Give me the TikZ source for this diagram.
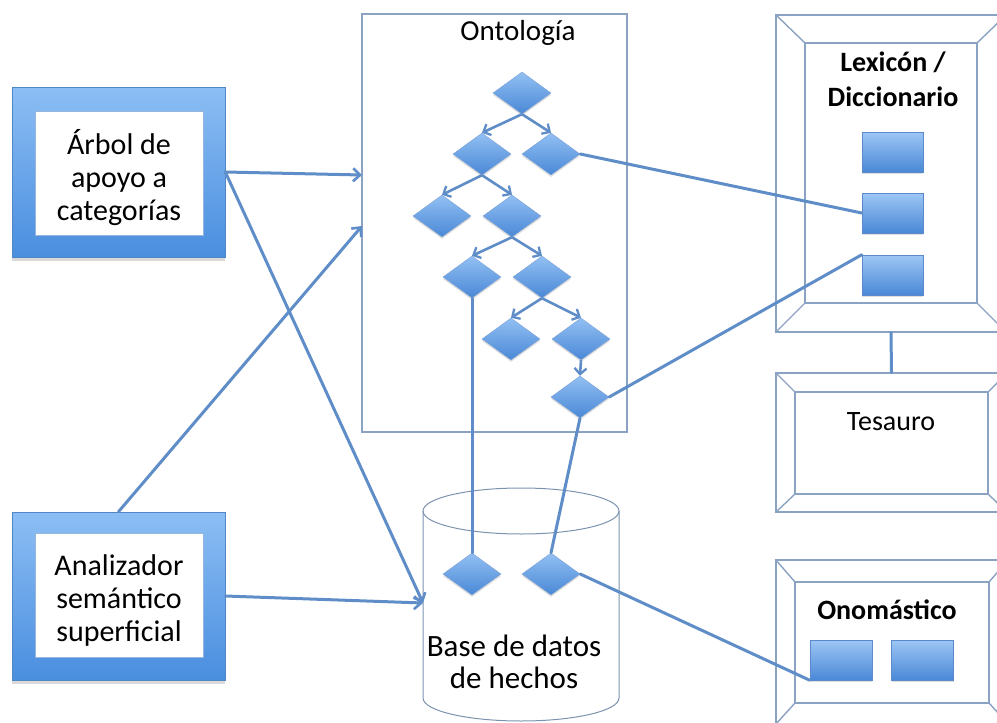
\documentclass[tikz,border=0pt]{standalone}
\usepackage{fontspec}
\setmainfont{Carlito}
\usetikzlibrary{arrows.meta,shapes.geometric,shadows}

\definecolor{conn}{HTML}{5F8DC8}
\definecolor{frameline}{HTML}{8AA3C2}
\definecolor{gemtop}{HTML}{92C0F3}
\definecolor{gembot}{HTML}{4A88D6}
\definecolor{gemedge}{HTML}{5A8ACB}
\definecolor{paneltop}{HTML}{8CBEF4}
\definecolor{panelbot}{HTML}{4A8EDF}
\definecolor{paneledge}{HTML}{4F86C6}

\tikzset{
  conn/.style={draw=conn, line width=3pt, line cap=round},
  feed/.style={conn, -{Straight Barb[length=7pt,width=13pt,line width=2.6pt]}},
  branch/.style={draw=conn, line width=2.6pt, -{Straight Barb[length=6pt,width=12pt,line width=2.3pt]}},
  gem/.style={diamond, minimum width=58pt, minimum height=42pt, inner sep=0pt,
    top color=gemtop, bottom color=gembot, draw=gemedge!80, line width=0.4pt,
    drop shadow={shadow xshift=0pt, shadow yshift=-2pt, opacity=0.25}},
  tile/.style={rectangle, minimum width=61pt, minimum height=40pt, inner sep=0pt,
    top color=gemtop!90!white, bottom color=gembot, draw=gemedge, line width=0.5pt,
    drop shadow={shadow xshift=0pt, shadow yshift=-2pt, opacity=0.25}},
  panel/.style={rectangle, minimum width=213pt, minimum height=170pt, inner sep=0pt,
    top color=paneltop, bottom color=panelbot, draw=paneledge, line width=0.6pt,
    drop shadow={shadow xshift=0pt, shadow yshift=-4pt, opacity=0.3}},
  panelcore/.style={rectangle, minimum width=168pt, minimum height=124pt, inner sep=0pt,
    fill=white, draw=paneledge!60, line width=0.5pt},
  bevel/.style={draw=frameline, line width=1.4pt},
  label/.style={align=center, font=\fontsize{30}{33}\selectfont},
  title/.style={align=center, font=\fontsize{28}{35}\selectfont\bfseries},
}

\begin{document}
\begin{tikzpicture}[x=1pt,y=-1pt]
\useasboundingbox (0,0) rectangle (997,723);

% ---- left input panels ----
\node[panel] (arbol) at (118.5,172) {};
\node[panelcore] at (119,173) {};
\node[label] at (119,178) {Árbol de\\apoyo a\\categorías};

\node[panel, minimum height=168pt] (ana) at (118.5,596) {};
\node[panelcore] at (119,595) {};
\node[label] at (119,600) {Analizador\\semántico\\superficial};

% ---- ontology frame ----
\node[rectangle, draw=frameline, line width=1.5pt, fill=white,
      minimum width=265pt, minimum height=418pt, inner sep=0pt] (onto) at (494.5,223) {};
\node[label, font=\fontsize{29}{32}\selectfont] at (518,33) {Ontología};
\coordinate (ontoA) at (362,175);
\coordinate (ontoB) at (362,226);

% ---- lexicon / dictionary frame ----
\node[rectangle, bevel, fill=white, minimum width=230pt, minimum height=317pt, inner sep=0pt]
  (lex) at (891,173.5) {};
\draw[bevel] (805,43) rectangle (977,303);
\draw[bevel] (lex.north west) -- (805,43) (lex.north east) -- (977,43)
             (lex.south west) -- (805,303) (lex.south east) -- (977,303);
\node[title] at (893,79) {Lexicón /\\Diccionario};

% ---- thesaurus frame ----
\node[rectangle, bevel, fill=white, minimum width=231pt, minimum height=139pt, inner sep=0pt]
  (tes) at (891.5,442.5) {};
\draw[bevel] (795,392) rectangle (988,494);
\draw[bevel] (tes.north west) -- (795,392) (tes.north east) -- (988,392)
             (tes.south west) -- (795,494) (tes.south east) -- (988,494);
\node[label, font=\fontsize{28}{32}\selectfont] at (891,422) {Tesauro};

% ---- onomasticon frame ----
\node[rectangle, bevel, fill=white, minimum width=232pt, minimum height=164pt, inner sep=0pt]
  (ono) at (892,642) {};
\draw[bevel] (795,582) rectangle (989,703);
\draw[bevel] (ono.north west) -- (795,582) (ono.north east) -- (989,582)
             (ono.south west) -- (795,703) (ono.south east) -- (989,703);
\node[title] at (887,610) {Onomástico};

% ---- fact database cylinder ----
\draw[draw=frameline!90!black, line width=1pt, fill=white]
  (423,511) -- (423,698) arc[start angle=180, end angle=0, x radius=98, y radius=23] -- (619,511);
\draw[draw=frameline!90!black, line width=1pt] (521,511) ellipse [x radius=98, y radius=23];
\node[label, font=\fontsize{31}{32}\selectfont] at (514,662) {Base de datos\\de hechos};
\coordinate (dbL) at (423,603);

% ---- lexicon entries ----
\node[tile] (lex1) at (892.5,152) {};
\node[tile] (lex2) at (892.5,213) {};
\node[tile] (lex3) at (892.5,275) {};
% ---- onomasticon entries ----
\node[tile, minimum width=62pt] (ono1) at (841,660) {};
\node[tile, minimum width=62pt] (ono2) at (922.5,660) {};

% ---- inputs into ontology and database ----
\draw[feed] (arbol.east) -- (ontoA);
\draw[feed] (arbol.east) -- (dbL);
\draw[feed] (ana.north) -- (ontoB);
\draw[feed] (ana.east) -- (dbL);

% ---- ontology tree ----
\node[gem] (d1) at (522,93) {};
\node[gem] (d2) at (482,154) {};
\node[gem] (d3) at (551,154) {};
\node[gem] (d4) at (442,216) {};
\node[gem] (d5) at (512,216) {};
\node[gem] (d6) at (472,277) {};
\node[gem] (d7) at (542,277) {};
\node[gem] (d8) at (511,339) {};
\node[gem] (d9) at (581,339) {};
\node[gem] (d10) at (580,397) {};

\draw[branch] (d1.south) -- (d2.north);
\draw[branch] (d1.south) -- (d3.north);
\draw[branch] (d2.south) -- (d4.north);
\draw[branch] (d2.south) -- (d5.north);
\draw[branch] (d5.south) -- (d6.north);
\draw[branch] (d5.south) -- (d7.north);
\draw[branch] (d7.south) -- (d8.north);
\draw[branch] (d7.south) -- (d9.north);
\draw[branch] (d9.south) -- (d10.north);

% ---- database facts ----
\node[gem] (f1) at (472,574) {};
\node[gem] (f2) at (551,574) {};

% ---- links between resources ----
\draw[conn] (d3.east) -- (lex2.west);
\draw[conn] (d10.east) -- (lex3.north west);
\draw[conn] (d6.south) -- (f1.north);
\draw[conn] (d10.south) -- (f2.north);
\draw[conn] (f2.east) -- (ono1.south west);
\draw[conn] (lex.south) -- (tes.north);

\end{tikzpicture}
\end{document}
